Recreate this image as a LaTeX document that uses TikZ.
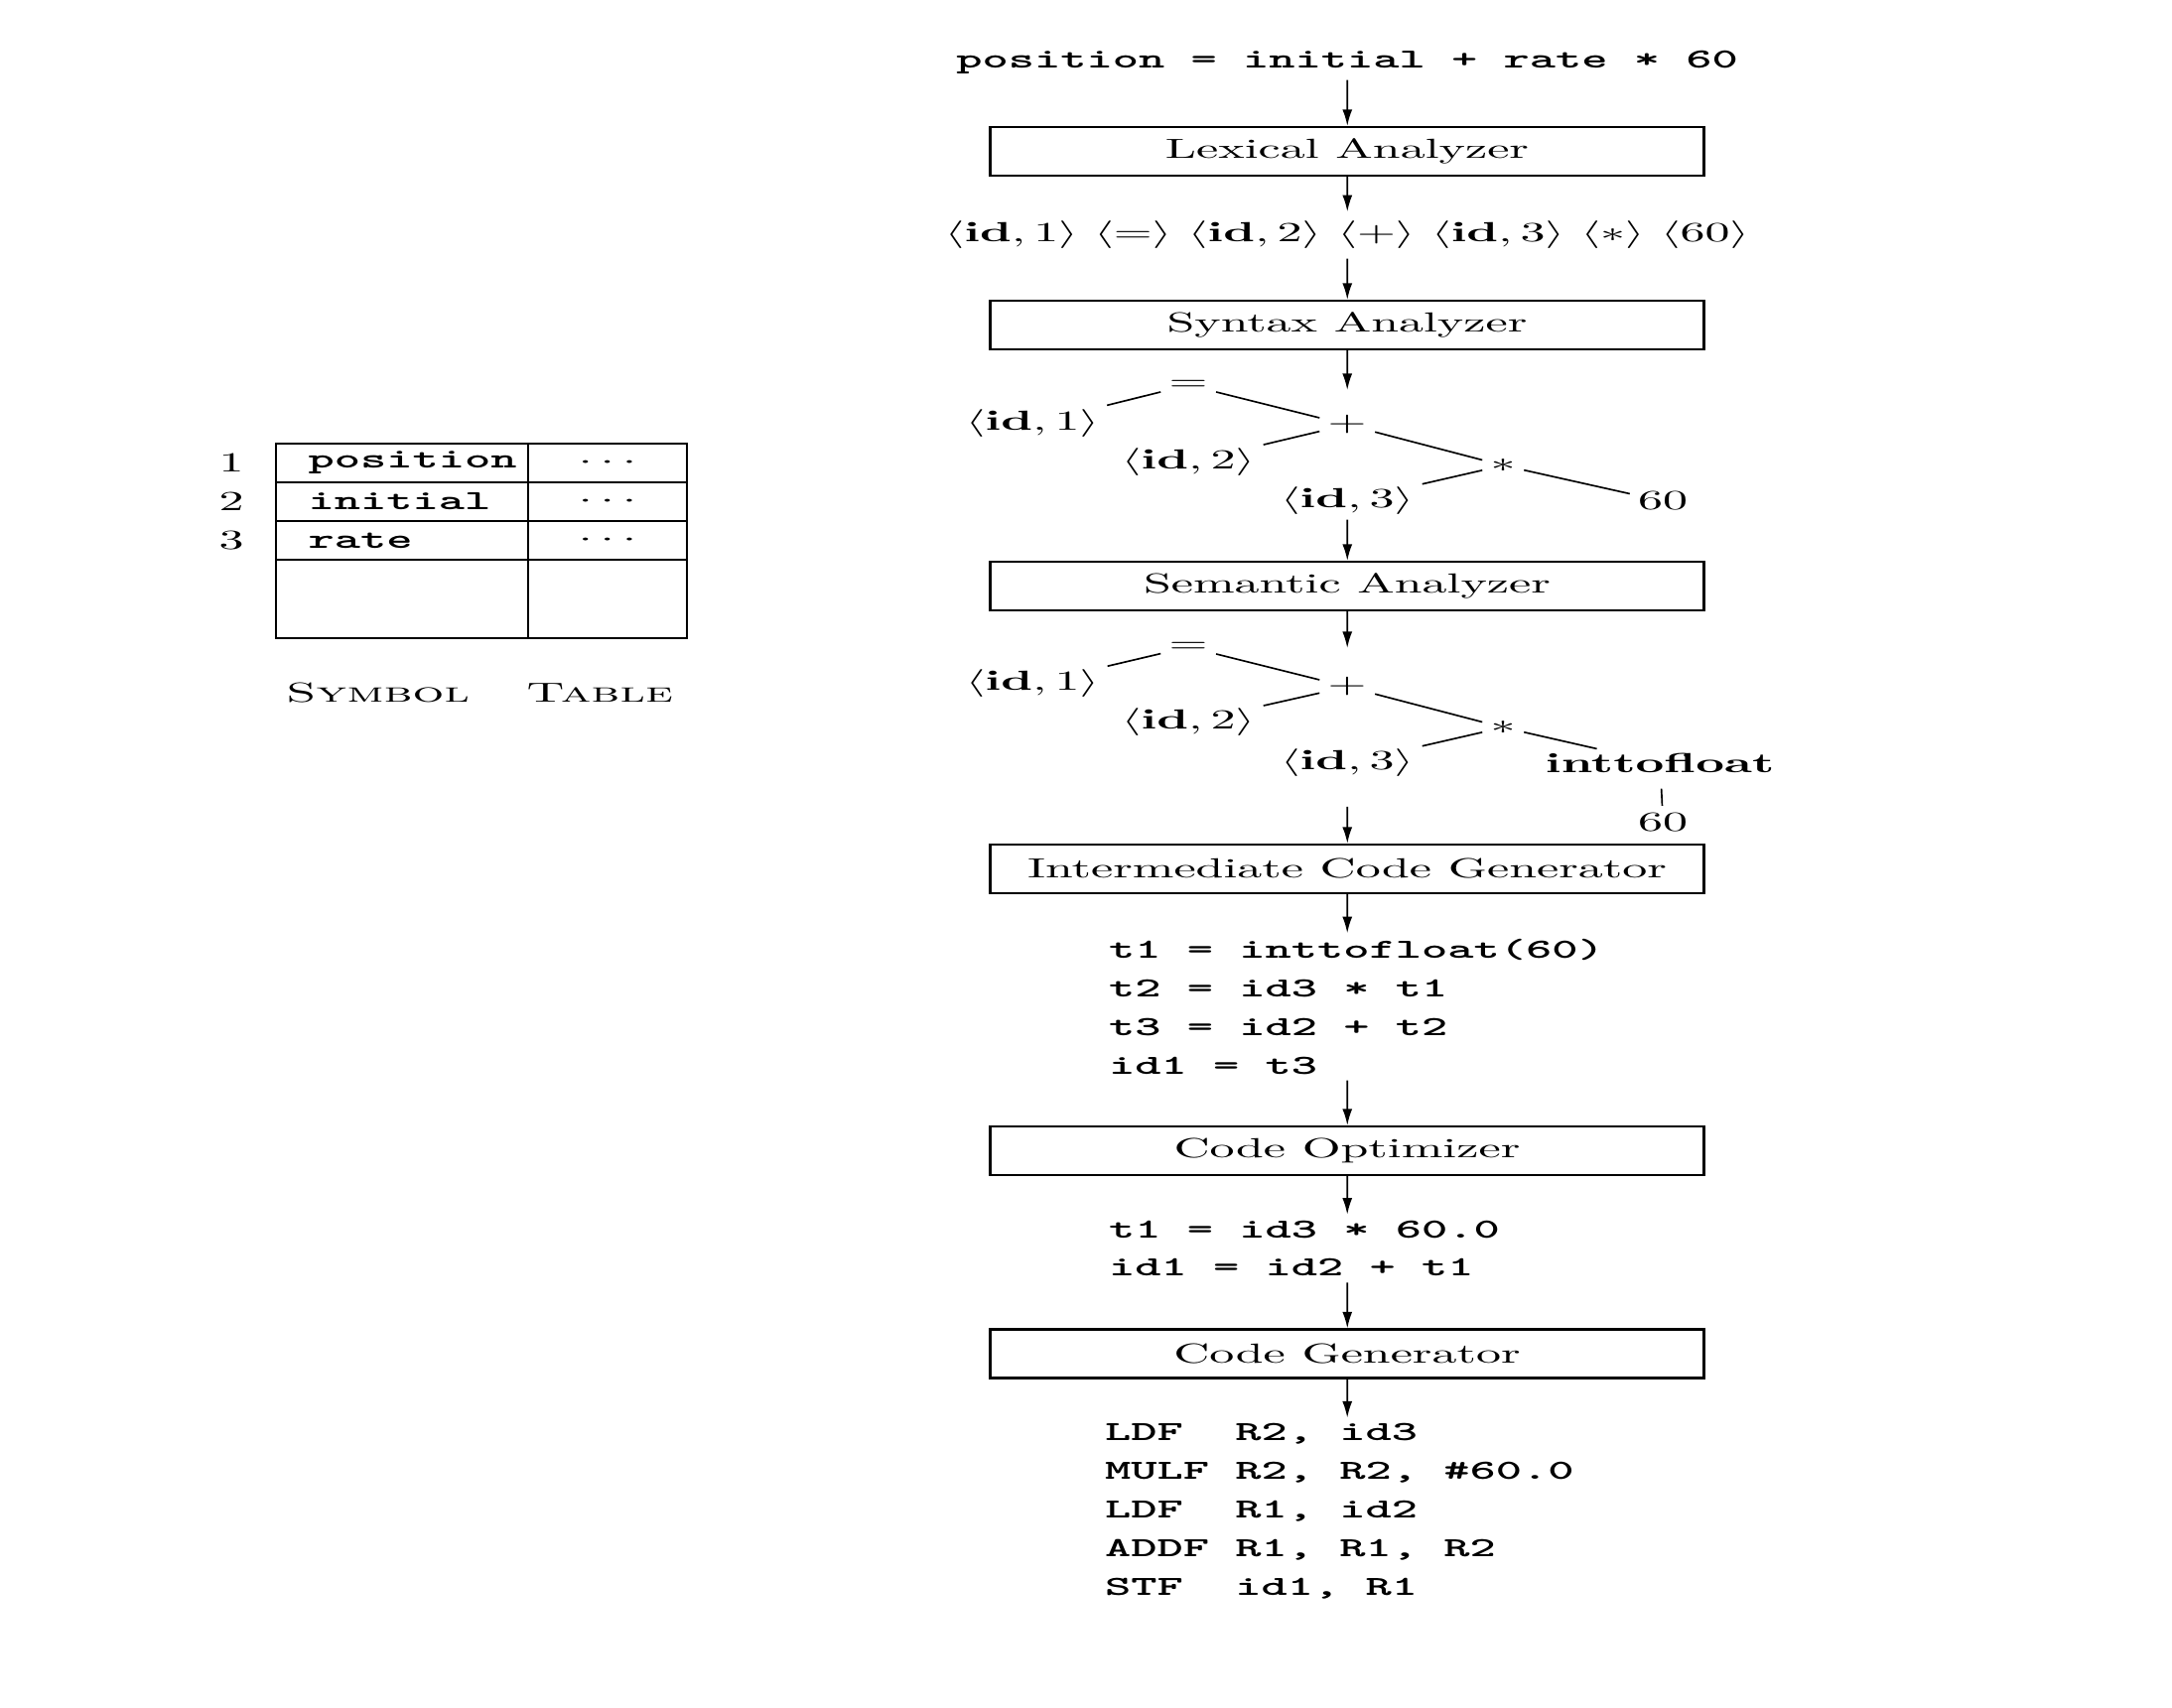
\documentclass[tikz,border=0pt]{standalone}
\usepackage{tikz}
\usetikzlibrary{arrows.meta}

\tikzset{
  phasebox/.style={draw, line width=0.8pt, minimum width=143.8pt, minimum height=17.6pt, inner sep=0pt},
  codeblk/.style={align=left, font=\ttfamily\bfseries\fontsize{10}{14}\selectfont, inner sep=2pt},
  tnode/.style={inner sep=1.5pt},
  tedge/.style={line width=0.6pt},
  flow/.style={-{Latex[length=6pt,width=3.6pt]}, line width=0.6pt},
}

\begin{document}
\begin{tikzpicture}[x=20pt, y=36pt, xscale=1.8, every node/.append style={transform shape}]
  \useasboundingbox (0,0) rectangle (21.88,17.20);

  % phases of the compiler
  \node[codeblk] (src) at (13.57,16.57) {position = initial + rate * 60};
  \node[phasebox] (lex) at (13.57,15.675) {Lexical Analyzer};
  \node (tok) at (13.57,14.83) {$\langle\mathbf{id},1\rangle\ \langle=\rangle\ \langle\mathbf{id},2\rangle\ \langle+\rangle\ \langle\mathbf{id},3\rangle\ \langle*\rangle\ \langle60\rangle$};
  \node[phasebox] (syn) at (13.57,13.925) {Syntax Analyzer};
  \node[phasebox] (sem) at (13.57,11.295) {Semantic Analyzer};
  \node[phasebox] (icg) at (13.57,8.445) {Intermediate Code Generator};
  \node[phasebox] (opt) at (13.57,5.605) {Code Optimizer};
  \node[phasebox] (gen) at (13.57,3.56) {Code Generator};

  % syntax tree
  \node[tnode] (eqa) at (11.97,13.32) {$=$};
  \node[tnode] (ida1) at (10.40,12.93) {$\langle\mathbf{id},1\rangle$};
  \node[tnode] (plusa) at (13.57,12.92) {$+$};
  \node[tnode] (ida2) at (11.97,12.54) {$\langle\mathbf{id},2\rangle$};
  \node[tnode] (mula) at (15.14,12.51) {$*$};
  \node[tnode] (ida3) at (13.57,12.15) {$\langle\mathbf{id},3\rangle$};
  \node[tnode] (sixa) at (16.75,12.15) {60};
  \draw[tedge] (eqa) -- (ida1);
  \draw[tedge] (eqa) -- (plusa);
  \draw[tedge] (plusa) -- (ida2);
  \draw[tedge] (plusa) -- (mula);
  \draw[tedge] (mula) -- (ida3);
  \draw[tedge] (mula) -- (sixa);

  % tree after semantic analysis
  \node[tnode] (eqb) at (11.97,10.68) {$=$};
  \node[tnode] (idb1) at (10.40,10.31) {$\langle\mathbf{id},1\rangle$};
  \node[tnode] (plusb) at (13.57,10.28) {$+$};
  \node[tnode] (idb2) at (11.97,9.92) {$\langle\mathbf{id},2\rangle$};
  \node[tnode] (mulb) at (15.14,9.87) {$*$};
  \node[tnode] (idb3) at (13.57,9.51) {$\langle\mathbf{id},3\rangle$};
  \node[tnode] (itf) at (16.72,9.51) {\textbf{inttofloat}};
  \node[tnode] (sixb) at (16.75,8.91) {60};
  \draw[tedge] (eqb) -- (idb1);
  \draw[tedge] (eqb) -- (plusb);
  \draw[tedge] (plusb) -- (idb2);
  \draw[tedge] (plusb) -- (mulb);
  \draw[tedge] (mulb) -- (idb3);
  \draw[tedge] (mulb) -- (itf);
  \draw[tedge, shorten <=4pt, shorten >=1pt] (itf) -- (sixb);

  % generated code
  \node[codeblk, anchor=west] (tac) at (11.06,7.055) {t1 = inttofloat(60)\\t2 = id3 * t1\\t3 = id2 + t2\\id1 = t3};
  \node[codeblk, anchor=west] (tacopt) at (11.06,4.62) {t1 = id3 * 60.0\\id1 = id2 + t1};
  \node[codeblk, anchor=west] (asm) at (11.02,1.97) {LDF~~R2, id3\\MULF R2, R2, \#60.0\\LDF~~R1, id2\\ADDF R1, R1, R2\\STF~~id1, R1};

  % arrows between phases
  \coordinate (ta) at (13.57,13.27);
  \coordinate (tb) at (13.57,10.67);
  \coordinate (tbb) at (13.57,9.07);
  \draw[flow] (src) -- (lex);
  \draw[flow] (lex) -- (tok);
  \draw[flow] (tok) -- (syn);
  \draw[flow] (syn) -- (ta);
  \draw[flow] (ida3) -- (sem);
  \draw[flow] (sem) -- (tb);
  \draw[flow] (tbb) -- (icg);
  \draw[flow] (icg) -- (icg |- tac.north);
  \draw[flow] (icg |- tac.south) -- (opt);
  \draw[flow] (opt) -- (opt |- tacopt.north);
  \draw[flow] (opt |- tacopt.south) -- (gen);
  \draw[flow] (gen) -- (gen |- asm.north);

  % symbol table
  \draw[line width=0.8pt] (2.78,10.77) rectangle (6.92,12.73);
  \foreach \y in {12.34,11.95,11.56}
    \draw[line width=0.8pt] (2.78,\y) -- (6.92,\y);
  \draw[line width=0.8pt] (5.32,10.77) -- (5.32,12.73);
  \foreach \n/\name/\y in {1/position/12.535, 2/initial/12.145, 3/rate/11.755} {
    \node (num\n) at (2.33,\y) {\n};
    \node[anchor=west, font=\ttfamily\bfseries] (sym\n) at (2.93,\y) {\name};
    \node (attr\n) at (6.12,\y) {$\cdots$};
  }
  \node (symcap) at (4.83,10.22) {\textsc{Symbol\ \ \ Table}};
\end{tikzpicture}
\end{document}
